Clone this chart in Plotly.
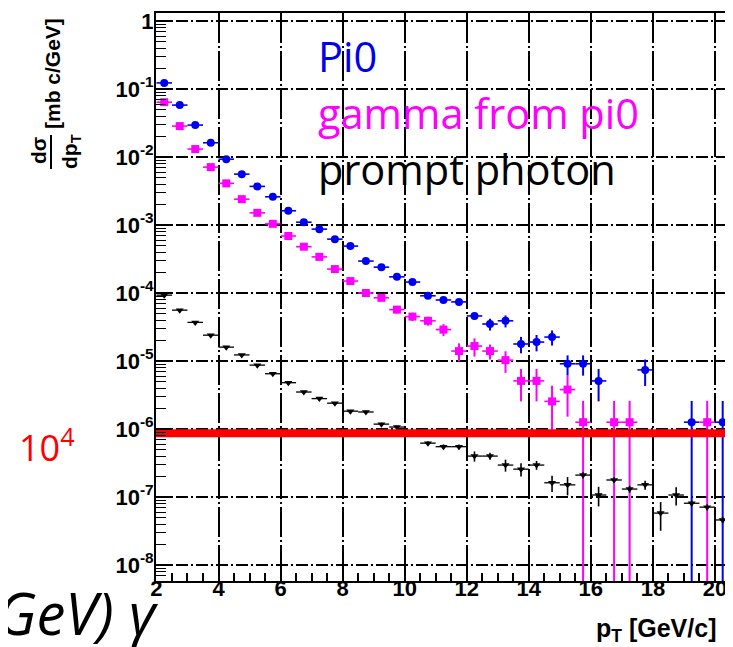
import plotly.graph_objects as go

# ---------------- data ----------------
pi0_pt = [2.25, 2.75, 3.25, 3.75, 4.25, 4.75, 5.25, 5.75, 6.25, 6.75, 7.25, 7.75, 8.25, 8.75,
          9.25, 9.75, 10.25, 10.75, 11.25, 11.75, 12.25, 12.75, 13.25, 13.75, 14.25, 14.75,
          15.25, 15.75, 16.25, 17.75, 19.25, 20.25, 20.75]
pi0_val = [0.123, 0.058, 0.0295, 0.0162, 0.0093, 0.0056, 0.0037, 0.0026, 0.00162, 0.0011,
           8.7e-4, 6.2e-4, 4.9e-4, 2.95e-4, 2.4e-4, 1.73e-4, 1.45e-4, 9.1e-5, 7.9e-5, 7.4e-5,
           4.6e-5, 3.5e-5, 3.9e-5, 1.78e-5, 1.9e-5, 2.25e-5, 9.1e-6, 9.1e-6, 5.1e-6, 7.4e-6,
           1.26e-6, 1.26e-6, 1.26e-6]
pi0_relerr = [0.03, 0.03, 0.03, 0.04, 0.04, 0.04, 0.05, 0.05, 0.05, 0.05, 0.06, 0.06, 0.06, 0.07,
              0.07, 0.08, 0.08, 0.1, 0.1, 0.1, 0.12, 0.2, 0.2, 0.27, 0.27, 0.25, 0.33, 0.33,
              0.5, 0.42, 1.05, 1.05, 1.05]

gam_pt = [2.25, 2.75, 3.25, 3.75, 4.25, 4.75, 5.25, 5.75, 6.25, 6.75, 7.25, 7.75, 8.25, 8.75,
          9.25, 9.75, 10.25, 10.75, 11.25, 11.75, 12.25, 12.75, 13.25, 13.75, 14.25, 14.75,
          15.25, 15.75, 16.75, 17.25, 19.75]
gam_val = [0.064, 0.0285, 0.0131, 0.0071, 0.0041, 0.0024, 0.00151, 0.00104, 6.9e-4, 4.8e-4,
           3.4e-4, 2.25e-4, 1.5e-4, 1.0e-4, 8.5e-5, 5.7e-5, 4.5e-5, 3.9e-5, 2.9e-5, 1.4e-5,
           1.66e-5, 1.4e-5, 1.03e-5, 5.1e-6, 5.1e-6, 2.55e-6, 3.8e-6, 1.26e-6, 1.26e-6,
           1.26e-6, 1.26e-6]
gam_relerr = [0.03, 0.03, 0.03, 0.04, 0.04, 0.04, 0.05, 0.05, 0.05, 0.06, 0.06, 0.07, 0.08, 0.1,
              0.12, 0.12, 0.14, 0.15, 0.2, 0.3, 0.3, 0.25, 0.35, 0.5, 0.5, 0.7, 0.6, 1.05, 1.05,
              1.05, 1.05]

pp_pt = [2.25, 2.75, 3.25, 3.75, 4.25, 4.75, 5.25, 5.75, 6.25, 6.75, 7.25, 7.75, 8.25, 8.75,
         9.25, 9.75, 10.25, 10.75, 11.25, 11.75, 12.25, 12.75, 13.25, 13.75, 14.25, 14.75,
         15.25, 15.75, 16.25, 16.75, 17.25, 17.75, 18.25, 18.75, 19.25, 19.75, 20.25, 20.75]
pp_val = [9.3e-5, 5.6e-5, 3.7e-5, 2.4e-5, 1.6e-5, 1.23e-5, 8.7e-6, 6.5e-6, 4.8e-6, 3.5e-6,
          2.8e-6, 2.4e-6, 1.83e-6, 1.78e-6, 1.18e-6, 1.07e-6, 8.5e-7, 6.2e-7, 5.5e-7, 5.5e-7,
          4.0e-7, 4.0e-7, 2.95e-7, 2.57e-7, 2.95e-7, 1.62e-7, 1.51e-7, 2.1e-7, 1.07e-7, 1.78e-7,
          1.31e-7, 1.51e-7, 5.8e-8, 1.07e-7, 8.1e-8, 7.1e-8, 4.6e-8, 2.3e-8]
pp_relerr = [0.02, 0.02, 0.02, 0.02, 0.02, 0.02, 0.03, 0.03, 0.03, 0.03, 0.03, 0.03, 0.04, 0.04,
             0.05, 0.05, 0.06, 0.07, 0.08, 0.08, 0.17, 0.12, 0.2, 0.22, 0.15, 0.27, 0.3, 0.1,
             0.32, 0.1, 0.12, 0.15, 0.45, 0.3, 0.1, 0.1, 0.1, 0.1]

bin_half_width = 0.25
red_level = 8.7e-7
red_x = [1.985, 20.84]

y_tick_vals = [1, 1e-1, 1e-2, 1e-3, 1e-4, 1e-5, 1e-6, 1e-7, 1e-8]
y_tick_text = ["1", "10<sup>-1</sup>", "10<sup>-2</sup>", "10<sup>-3</sup>", "10<sup>-4</sup>",
               "10<sup>-5</sup>", "10<sup>-6</sup>", "10<sup>-7</sup>", "10<sup>-8</sup>"]
x_tick_vals = [2, 4, 6, 8, 10, 12, 14, 16, 18, 20]

legend_labels = ["Pi0", "gamma from pi0", "prompt photon"]

# ---------------- figure ----------------
W, H = 733, 647
L, R, T, B = 148, 0, 5, 74
PW, PH = W - L - R, H - T - B

def px(x):
    return (x - L) / PW

def py(y):
    return (H - B - y) / PH

BLUE = "#0000f0"
MAG = "#ff00ff"

def errs(vals, rel):
    return [v * r for v, r in zip(vals, rel)]

fig = go.Figure()

fig.add_trace(go.Scatter(
    x=pi0_pt, y=pi0_val, mode="markers",
    marker=dict(symbol="circle", size=8, color=BLUE),
    error_x=dict(type="constant", value=bin_half_width, width=0, thickness=1.6, color=BLUE),
    error_y=dict(type="data", array=errs(pi0_val, pi0_relerr), width=0, thickness=2, color=BLUE),
    showlegend=False))

fig.add_trace(go.Scatter(
    x=gam_pt, y=gam_val, mode="markers",
    marker=dict(symbol="square", size=8, color=MAG),
    error_x=dict(type="constant", value=bin_half_width, width=0, thickness=1.6, color=MAG),
    error_y=dict(type="data", array=errs(gam_val, gam_relerr), width=0, thickness=2, color=MAG),
    showlegend=False))

fig.add_trace(go.Scatter(
    x=pp_pt, y=pp_val, mode="markers",
    marker=dict(symbol="triangle-down", size=7, color="black"),
    error_x=dict(type="constant", value=bin_half_width, width=0, thickness=1.3, color="black"),
    error_y=dict(type="data", array=errs(pp_val, pp_relerr), width=0, thickness=1.6, color="black"),
    showlegend=False))

fig.add_trace(go.Scatter(
    x=red_x, y=[red_level, red_level], mode="lines",
    line=dict(color="#ff0000", width=8), showlegend=False, cliponaxis=False))

minor_y = [m * 10.0 ** e for e in range(-9, 1) for m in range(2, 10)]

TICKFONT = dict(family="Liberation Sans", size=22, color="black", weight="bold")

fig.update_xaxes(
    range=[1.985, 20.84], showline=True, linecolor="black", linewidth=2, mirror=True,
    tickvals=x_tick_vals, ticks="inside", ticklen=14, tickwidth=1.5, tickcolor="black",
    showgrid=True, gridcolor="black", gridwidth=1.6, griddash="30px,3px,2px,3px",
    minor=dict(dtick=0.5, ticks="inside", ticklen=8, tickwidth=1.5, tickcolor="black", showgrid=False),
    tickfont=TICKFONT, ticklabelstandoff=-13, zeroline=False)

fig.update_yaxes(
    type="log", range=[-8.235, 0.118], showline=True, linecolor="black", linewidth=2, mirror=False,
    tickvals=y_tick_vals, ticktext=y_tick_text, ticks="inside", ticklen=16, tickwidth=1.5,
    tickcolor="black",
    showgrid=True, gridcolor="black", gridwidth=1.6, griddash="12px,3px,2px,3px",
    minor=dict(tickvals=minor_y, ticks="inside", ticklen=10, tickwidth=1.3, tickcolor="black", showgrid=False),
    tickfont=TICKFONT, ticklabelstandoff=-4, zeroline=False)

ann = []
# legend-like texts
leg_colors = [BLUE, MAG, "black"]
leg_y = [48, 105, 161]
for lab, col, yy in zip(legend_labels, leg_colors, leg_y):
    ann.append(dict(x=px(308), y=py(yy), xref="paper", yref="paper", text=lab, showarrow=False,
                    xanchor="left", yanchor="middle",
                    font=dict(family="Open Sans", size=41.5, color=col)))
# red 10^4 label
ann.append(dict(x=px(9), y=py(437), xref="paper", yref="paper", text="10<sup>4</sup>",
                showarrow=False, xanchor="left", yanchor="middle",
                font=dict(family="Open Sans", size=36, color="#ff0000")))
# bottom-left italic text
ann.append(dict(x=px(153), y=py(604), xref="paper", yref="paper", text="<i>GeV) γ</i>",
                showarrow=False, xanchor="right", yanchor="middle",
                font=dict(family="Open Sans", size=58, color="black")))
# x axis title
ann.append(dict(x=px(710), y=py(622), xref="paper", yref="paper", text="p<sub>T</sub> [GeV/c]",
                showarrow=False, xanchor="right", yanchor="middle",
                font=dict(family="Liberation Sans", size=25, color="black", weight="bold")))
# y axis title (rotated)
ann.append(dict(x=px(45), y=py(65), xref="paper", yref="paper", text="[mb c/GeV]",
                showarrow=False, textangle=-90, xanchor="center", yanchor="middle",
                font=dict(family="Liberation Sans", size=21, color="black", weight="bold")))
ann.append(dict(x=px(30), y=py(143), xref="paper", yref="paper", text="dσ",
                showarrow=False, textangle=-90, xanchor="center", yanchor="middle",
                font=dict(family="Liberation Sans", size=21, color="black", weight="bold")))
ann.append(dict(x=px(63), y=py(144), xref="paper", yref="paper", text="dp<sub>T</sub>",
                showarrow=False, textangle=-90, xanchor="center", yanchor="middle",
                font=dict(family="Liberation Sans", size=21, color="black", weight="bold")))

shapes = [dict(type="line", xref="paper", yref="paper", x0=px(43), x1=px(43), y0=py(127), y1=py(161),
               line=dict(color="black", width=2))]

fig.update_layout(
    width=W, height=H, margin=dict(l=L, r=R, t=T, b=B, pad=0),
    paper_bgcolor="white", plot_bgcolor="white",
    annotations=ann, shapes=shapes, showlegend=False)

fig.write_html("out.html")
